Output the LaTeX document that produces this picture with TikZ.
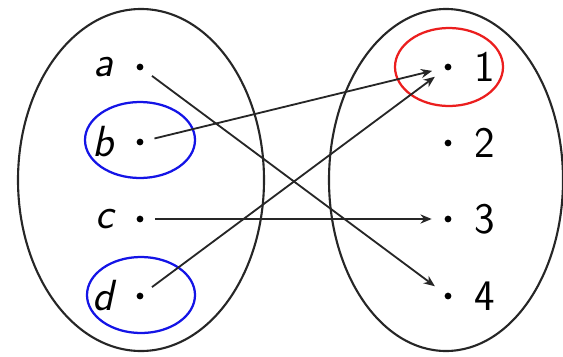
\documentclass[tikz,border=0pt]{standalone}
\usepackage{xcolor}
\usepackage{tikz}
\usetikzlibrary{positioning, arrows.meta}
\definecolor{setline}{gray}{0.15}
\definecolor{pickblue}{RGB}{20, 20, 230}
\definecolor{pickred}{RGB}{235, 30, 30}

\begin{document}
\begin{tikzpicture}[x=0.025cm, y=-0.025cm,
	pt/.style={circle, fill=black, inner sep=0pt, minimum size=4.8pt},
	lbl/.style={font=\fontsize{31}{36}\selectfont\sffamily, inner sep=1pt},
	maparrow/.style={-{Stealth[length=8pt, width=6.5pt]}, line width=1.3pt, setline, shorten <=8pt, shorten >=9pt}]
	\useasboundingbox (0,0) rectangle (563,356);
	\def\lx{140}
	\def\rx{448}
	
	% the two sets
	\draw[setline, line width=1.5pt] (141,180) ellipse [x radius=123, y radius=171];
	\draw[setline, line width=1.5pt] (446,180) ellipse [x radius=117, y radius=171];
	
	% domain points
	\node[pt] (a) at (\lx, 67)  {};
	\node[pt] (b) at (\lx, 142) {};
	\node[pt] (c) at (\lx, 219) {};
	\node[pt] (d) at (\lx, 296) {};
	% codomain points
	\node[pt] (n1) at (\rx, 67)  {};
	\node[pt] (n2) at (\rx, 143) {};
	\node[pt] (n3) at (\rx, 219) {};
	\node[pt] (n4) at (\rx, 296) {};
	
	% point labels
	\node[lbl, left=15pt of a] (la) {\itshape a};
	\node[lbl, left=15pt of b] (lb) {\itshape b};
	\node[lbl, left=15pt of c] (lc) {\itshape c};
	\node[lbl, left=15pt of d] (ld) {\itshape d};
	\node[lbl, right=15pt of n1] (l1) {1};
	\node[lbl, right=15pt of n2] (l2) {2};
	\node[lbl, right=15pt of n3] (l3) {3};
	\node[lbl, right=15pt of n4] (l4) {4};
	
	% marked elements
	\draw[pickblue, line width=1.6pt] (140,140) ellipse [x radius=55, y radius=38];
	\draw[pickblue, line width=1.6pt] (141,295) ellipse [x radius=54, y radius=38];
	\draw[pickred, line width=1.6pt] (449,67) ellipse [x radius=54, y radius=39];
	
	% the map
	\draw[maparrow] (a) -- (n4);
	\draw[maparrow] (b) -- (n1);
	\draw[maparrow] (c) -- (n3);
	\draw[maparrow] (d) -- (n1);
\end{tikzpicture}
\end{document}
